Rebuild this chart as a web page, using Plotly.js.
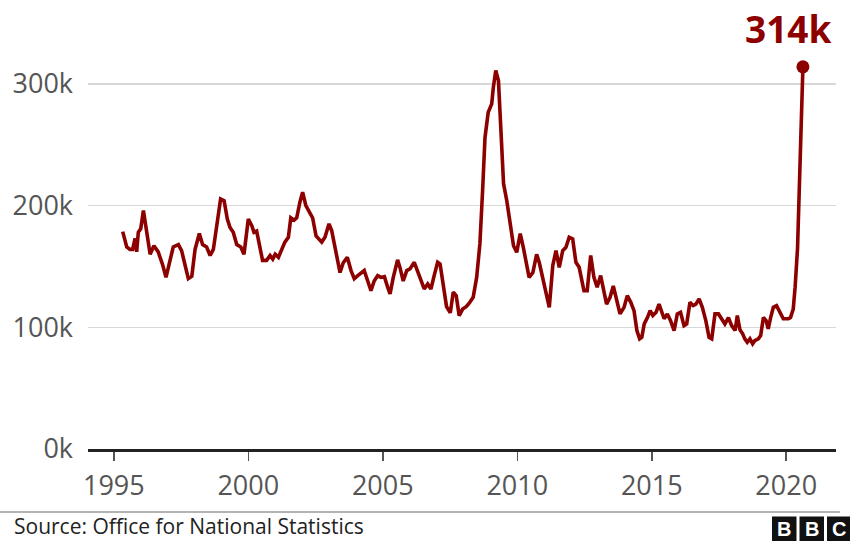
<!DOCTYPE html>
<html>
<head>
<meta charset="utf-8">
<script src="https://cdn.plot.ly/plotly-3.0.1.min.js"></script>
<style>
html,body{margin:0;padding:0;background:#fff;}
#chart{width:850px;height:541px;}
</style>
</head>
<body>
<div id="chart"></div>
<script>
// Redundancies (thousands), 3-month rolling, x = decimal year
const years = [
1995.33,1995.48,1995.60,1995.70,1995.79,1995.85,1995.91,1996.00,1996.10,1996.22,
1996.35,1996.49,1996.65,1996.82,1996.94,1997.09,1997.21,1997.40,1997.52,1997.65,
1997.77,1997.90,1998.02,1998.18,1998.30,1998.45,1998.58,1998.70,1998.85,1998.97,
1999.10,1999.22,1999.32,1999.44,1999.57,1999.72,1999.84,2000.00,2000.13,2000.21,
2000.31,2000.41,2000.53,2000.68,2000.81,2000.91,2001.00,2001.12,2001.24,2001.36,
2001.49,2001.58,2001.70,2001.80,2001.92,2002.02,2002.14,2002.29,2002.39,2002.52,
2002.64,2002.73,2002.85,2003.00,2003.10,2003.22,2003.31,2003.41,2003.53,2003.68,
2003.82,2003.94,2004.07,2004.19,2004.31,2004.44,2004.56,2004.68,2004.81,2004.93,
2005.06,2005.18,2005.27,2005.39,2005.55,2005.64,2005.76,2005.89,2006.01,2006.17,
2006.30,2006.42,2006.54,2006.67,2006.79,2006.91,2007.04,2007.13,2007.25,2007.37,
2007.51,2007.62,2007.73,2007.84,2007.97,2008.10,2008.22,2008.36,2008.49,2008.61,
2008.71,2008.80,2008.92,2009.05,2009.11,2009.20,2009.30,2009.39,2009.49,2009.61,
2009.74,2009.86,2009.98,2010.11,2010.23,2010.44,2010.58,2010.72,2010.82,2010.94,
2011.07,2011.19,2011.32,2011.44,2011.56,2011.69,2011.81,2011.93,2012.06,2012.18,
2012.30,2012.48,2012.60,2012.73,2012.85,2012.97,2013.10,2013.22,2013.32,2013.45,
2013.57,2013.70,2013.82,2013.97,2014.09,2014.22,2014.34,2014.45,2014.55,2014.63,
2014.72,2014.84,2014.94,2015.04,2015.16,2015.27,2015.37,2015.46,2015.58,2015.70,
2015.83,2015.95,2016.07,2016.20,2016.30,2016.42,2016.54,2016.64,2016.76,2016.88,
2017.01,2017.13,2017.23,2017.35,2017.48,2017.60,2017.72,2017.85,2017.97,2018.10,
2018.18,2018.28,2018.38,2018.46,2018.55,2018.65,2018.75,2018.83,2018.96,2019.05,
2019.15,2019.25,2019.33,2019.42,2019.52,2019.64,2019.77,2019.89,2020.08,2020.16,
2020.26,2020.33,2020.42,2020.50,2020.62
];
const redundancies = [
178.6,166,164,164,173,162,178,181,196,178,
160,167,162,151,141,155,166,168,163,151,
140,142,164,177,168,166,159,164,186,205.5,
204,189,182,178,168,166,160,189,183.5,178,
179,167,155,155,159,156,160,157.5,163,170,
174,190,188,190,203,211,200,194.5,190,175,
172.6,170,174,185,179.5,167,156,145,153,157.5,
146.6,140,142.5,145,146.6,138,130,138,142.5,141,
141.6,133,127.5,141,155.4,149,138,146.6,148,153.4,
145,137,131.5,135.6,131.5,142.5,153.4,152,133,117,
112,129,126,109.6,115,117,120,124.7,141,168.5,
212,256,276.7,283.6,297,311,302.7,259,218,204,
186,167,161.6,177,165,141,145,160,153,141,
127.5,116.4,150.7,163,149.3,163,165.7,174,172.6,153.4,
149.3,130,130,159,141,133,142.5,129,119,124.7,
134,122,111,116.4,126,120.5,113.7,97,90.5,91.8,
102.8,108,113.7,109.6,112.3,119,112.3,107,111,105.5,
97.3,111,112.3,101.4,102.8,120.5,117.8,119,123.3,116.4,
105.5,91.8,90.5,111,111,107,102.8,108,101.4,97.3,
109.6,98,94.6,90.5,87.7,90.5,86.4,89,90.5,93.2,
108,105.5,98.7,108,116.4,117.8,112.3,107,107,108,
115,133,165,230,314
];
const xTicks = [1995, 2000, 2005, 2010, 2015, 2020];
const yTicks = [0, 100, 200, 300];
const yTickLabels = ['0k', '100k', '200k', '300k'];
const latestLabel = '314k';
const sourceText = 'Source: Office for National Statistics';

const W = 850, H = 541;
const M = {l: 88, r: 14, t: 30, b: 92};
const PW = W - M.l - M.r, PH = H - M.t - M.b;
const px = x => (x - M.l) / PW;          // page x -> paper x
const py = y => (H - M.b - y) / PH;      // page y -> paper y

const RED = '#8c0000';
const FONT = '"Open Sans", "Noto Sans", sans-serif';

const traces = [
  {x: years, y: redundancies, type: 'scatter', mode: 'lines',
   line: {color: RED, width: 3.6, shape: 'linear'}, hoverinfo: 'skip', cliponaxis: false},
  {x: [years[years.length-1]], y: [redundancies[redundancies.length-1]], type: 'scatter', mode: 'markers',
   marker: {color: RED, size: 13}, hoverinfo: 'skip', cliponaxis: false}
];

const shapes = [
  {type: 'line', xref: 'paper', yref: 'paper', x0: px(0), x1: px(840), y0: py(512), y1: py(512),
   line: {color: '#9a9a9a', width: 1.5}},
];
const bbc = ['B', 'B', 'C'];
const annotations = [
  {xref: 'x', yref: 'y', x: years[years.length-1], y: redundancies[redundancies.length-1],
   text: '<b>' + latestLabel + '</b>', showarrow: false, xanchor: 'center', yanchor: 'bottom',
   xshift: -15, yshift: 11, font: {family: FONT, size: 37, color: RED}},
  {xref: 'paper', yref: 'paper', x: px(12), y: py(526), xanchor: 'left', yanchor: 'middle',
   text: sourceText, showarrow: false, font: {family: FONT, size: 21, color: '#222'}}
];
bbc.forEach((ch, i) => {
  const x0 = 772 + i * 27.5, x1 = x0 + 24.5;
  shapes.push({type: 'rect', xref: 'paper', yref: 'paper', x0: px(x0), x1: px(x1), y0: py(541), y1: py(516.5),
    fillcolor: '#111', line: {width: 0}});
  annotations.push({xref: 'paper', yref: 'paper', x: px((x0 + x1) / 2), y: py(529), xanchor: 'center', yanchor: 'middle',
    text: '<b>' + ch + '</b>', showarrow: false, font: {family: '"Liberation Sans", Arial, sans-serif', size: 20, color: '#fff'}});
});

const layout = {
  width: W, height: H, margin: M,
  paper_bgcolor: '#fff', plot_bgcolor: '#fff',
  showlegend: false,
  font: {family: FONT, color: '#555'},
  xaxis: {
    range: [1994.04, 2021.85], tickvals: xTicks, ticktext: xTicks.map(String),
    ticks: 'outside', ticklen: 9, tickwidth: 1.5, tickcolor: '#555',
    showline: true, linecolor: '#222', linewidth: 2.5,
    showgrid: false, zeroline: false, fixedrange: true,
    tickfont: {family: FONT, size: 27, color: '#555'}, ticklabelstandoff: 2
  },
  yaxis: {
    range: [0, PH / 1.217], tickvals: yTicks, ticktext: yTickLabels,
    ticks: '', showline: false, zeroline: false,
    showgrid: true, gridcolor: '#d8d8d8', gridwidth: 1.5, fixedrange: true,
    tickfont: {family: FONT, size: 27, color: '#555'}, ticklabelstandoff: 14
  },
  shapes: shapes,
  annotations: annotations
};

Plotly.newPlot('chart', traces, layout, {displayModeBar: false, staticPlot: true});
</script>
</body>
</html>
